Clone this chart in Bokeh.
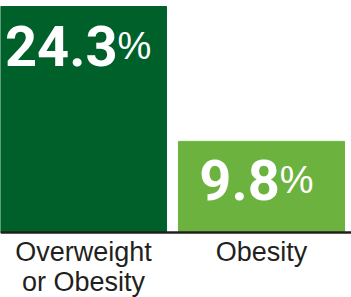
from bokeh.plotting import figure
from bokeh.models import ColumnDataSource, Range1d, Span
from bokeh.core.properties import value
from bokeh.embed import file_html
from bokeh.resources import INLINE

categories = ["Overweight\nor Obesity", "Obesity"]
values = [24.3, 9.8]
value_labels = ["24.3", "9.8"]
bar_colors = ["#00602a", "#6cb23f"]

NUM_SIZE = 56
PCT_SIZE = 38

def est_width(s):
    w = 0.0
    for ch in s:
        w += 0.276 if ch == "." else 0.562
    return w * NUM_SIZE

pct_w = 0.889 * PCT_SIZE
offsets = [(est_width(s) - pct_w) / 2 - 4 for s in value_labels]

xs = list(range(len(categories)))
src = ColumnDataSource(dict(x=xs, top=values, num=value_labels, color=bar_colors,
                            off=offsets, cat=categories, base=[0] * len(xs)))

p = figure(width=351, height=297, output_backend="svg", toolbar_location=None,
           x_range=Range1d(-0.4663, 1.5056), y_range=Range1d(-6.99, 24.95),
           min_border_left=0, min_border_right=0, min_border_top=0, min_border_bottom=0)
p.outline_line_color = None
p.grid.visible = False
p.axis.visible = False
p.background_fill_color = "white"

p.vbar(x="x", top="top", bottom=0, width=0.933, color="color", source=src)

p.add_layout(Span(location=0, dimension="width", line_color="#231f20", line_width=2.5))

p.text(x="x", y="top", text="num", source=src, x_offset="off", y_offset=39,
       text_align="right", text_baseline="alphabetic", text_color="white",
       text_font=value("Roboto"), text_font_style="bold",
       text_font_size=f"{NUM_SIZE}px")
p.text(x="x", y="top", text=value("%"), source=src, x_offset="off", y_offset=39,
       text_align="left", text_baseline="alphabetic", text_color="white",
       text_font=value("Liberation Sans"), text_font_size=f"{PCT_SIZE}px")

p.text(x="x", y="base", text="cat", source=src, y_offset=4,
       text_align="center", text_baseline="top", text_color="#231f20",
       text_font=value("Liberation Sans"), text_font_size="27px",
       text_line_height=1.0)

open("out.html", "w").write(file_html(p, INLINE))
